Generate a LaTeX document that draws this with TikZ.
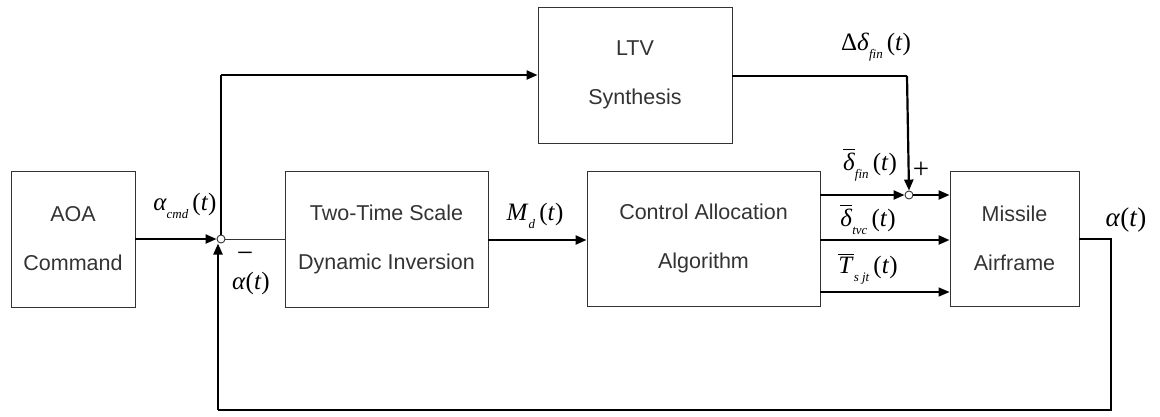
\documentclass[tikz,border=0pt]{standalone}
\usepackage{fontspec}
\setmainfont{Liberation Sans}
\newfontfamily\tms{Liberation Serif}
\usetikzlibrary{arrows.meta}
\newcommand{\sbs}[1]{\raisebox{-0.32em}{\fontsize{13}{13}\selectfont\itshape #1}}
\newcommand{\ob}[1]{\setbox0=\hbox{#1}\rlap{\raisebox{\dimexpr\ht0+2.5pt\relax}{\rule{\wd0}{1pt}}}\box0}
\tikzset{
  blk/.style={draw=black!80, line width=0.9pt, align=center, inner sep=0pt,
    text=black!80, font=\fontsize{21.5}{49}\selectfont},
  sumj/.style={circle, draw=black!80, line width=0.9pt, fill=white, minimum size=8pt, inner sep=0pt},
  sig/.style={line width=2.2pt, -{Triangle[length=11pt,width=9pt]}},
  sigthin/.style={line width=1.4pt, -{Triangle[length=11pt,width=9pt]}},
  wire/.style={line width=2.2pt},
  lbl/.style={font=\tms\fontsize{25}{28}\selectfont, inner sep=0pt},
  sgn/.style={font=\tms\fontsize{29}{30}\selectfont, inner sep=0pt},
}
\begin{document}
\begin{tikzpicture}[x=1pt,y=-1pt]
\useasboundingbox (0,0) rectangle (1160,416);
% blocks
\node[blk, minimum width=124pt, minimum height=136pt] (aoa) at (73,239) {AOA\\Command};
\node[blk, minimum width=203pt, minimum height=136pt] (tts) at (386.5,239) {Two-Time Scale\\Dynamic Inversion};
\node[blk, minimum width=233pt, minimum height=135pt] (cal) at (703.5,238.5) {Control Allocation\\Algorithm};
\node[blk, minimum width=129pt, minimum height=135pt] (msl) at (1014.5,238.5) {Missile\\Airframe};
\node[blk, minimum width=194pt, minimum height=136pt] (ltv) at (635,75) {LTV\\Synthesis};
% junctions
\node[sumj] (s1) at (221,239) {};
\node[sumj] (s2) at (909,195) {};
% coordinates
\coordinate (up) at (221,75);
\coordinate (ltvr) at (907,76);
\coordinate (fbr) at (1111,239);
\coordinate (fbbr) at (1111,410);
\coordinate (fbbl) at (218,410);
% connectors
\draw[sig] (aoa.east |- s1) -- (s1.west);
\draw[line width=0.9pt, black!80] (s1.east) -- (tts.west |- s1);
\draw[wire] (s1.north) -- (up);
\draw[sig] (up) -- (ltv.west |- up);
\draw[wire] (ltv.east |- ltvr) -- (ltvr);
\draw[sig] (ltvr) -- (s2.north);
\draw[sig] (tts.east |- 0,240) -- (cal.west |- 0,240);
\draw[sig] (cal.east |- s2) -- (s2.west);
\draw[sig] (s2.east) -- (msl.west |- s2);
\draw[sig] (cal.east |- 0,240) -- (msl.west |- 0,240);
\draw[sigthin] (cal.east |- 0,292) -- (msl.west |- 0,292);
\draw[wire] (msl.east |- fbr) -- (fbr) -- (fbbr) -- (fbbl);
\draw[sig] (fbbl) -- (218,243.5);
% labels
\node[lbl] (lacmd) at (185,206) {{\itshape α}\sbs{cmd}\,(\textit{t})};
\node[sgn] (lminus) at (245,257) {−};
\node[lbl] (lafb) at (251,283) {\textit{α}(\textit{t})};
\node[lbl] (lmd) at (535,216) {\textit{M}\sbs{d}\,(\textit{t})};
\node[lbl] (ldd) at (876,47) {Δ\textit{δ}\sbs{fin}\,(\textit{t})};
\node[lbl] (ldf) at (870,165) {\ob{\textit{δ}}\sbs{fin}\,(\textit{t})};
\node[sgn] (lplus) at (921,170) {+};
\node[lbl] (ldt) at (868,220) {\ob{\textit{δ}}\sbs{tvc}\,(\textit{t})};
\node[lbl] (lts) at (868,269) {\ob{\textit{T}}\sbs{s jt}\,(\textit{t})};
\node[lbl, font=\tms\fontsize{27}{28}\selectfont] (lout) at (1126,220) {\textit{α}(\textit{t})};
\end{tikzpicture}
\end{document}
